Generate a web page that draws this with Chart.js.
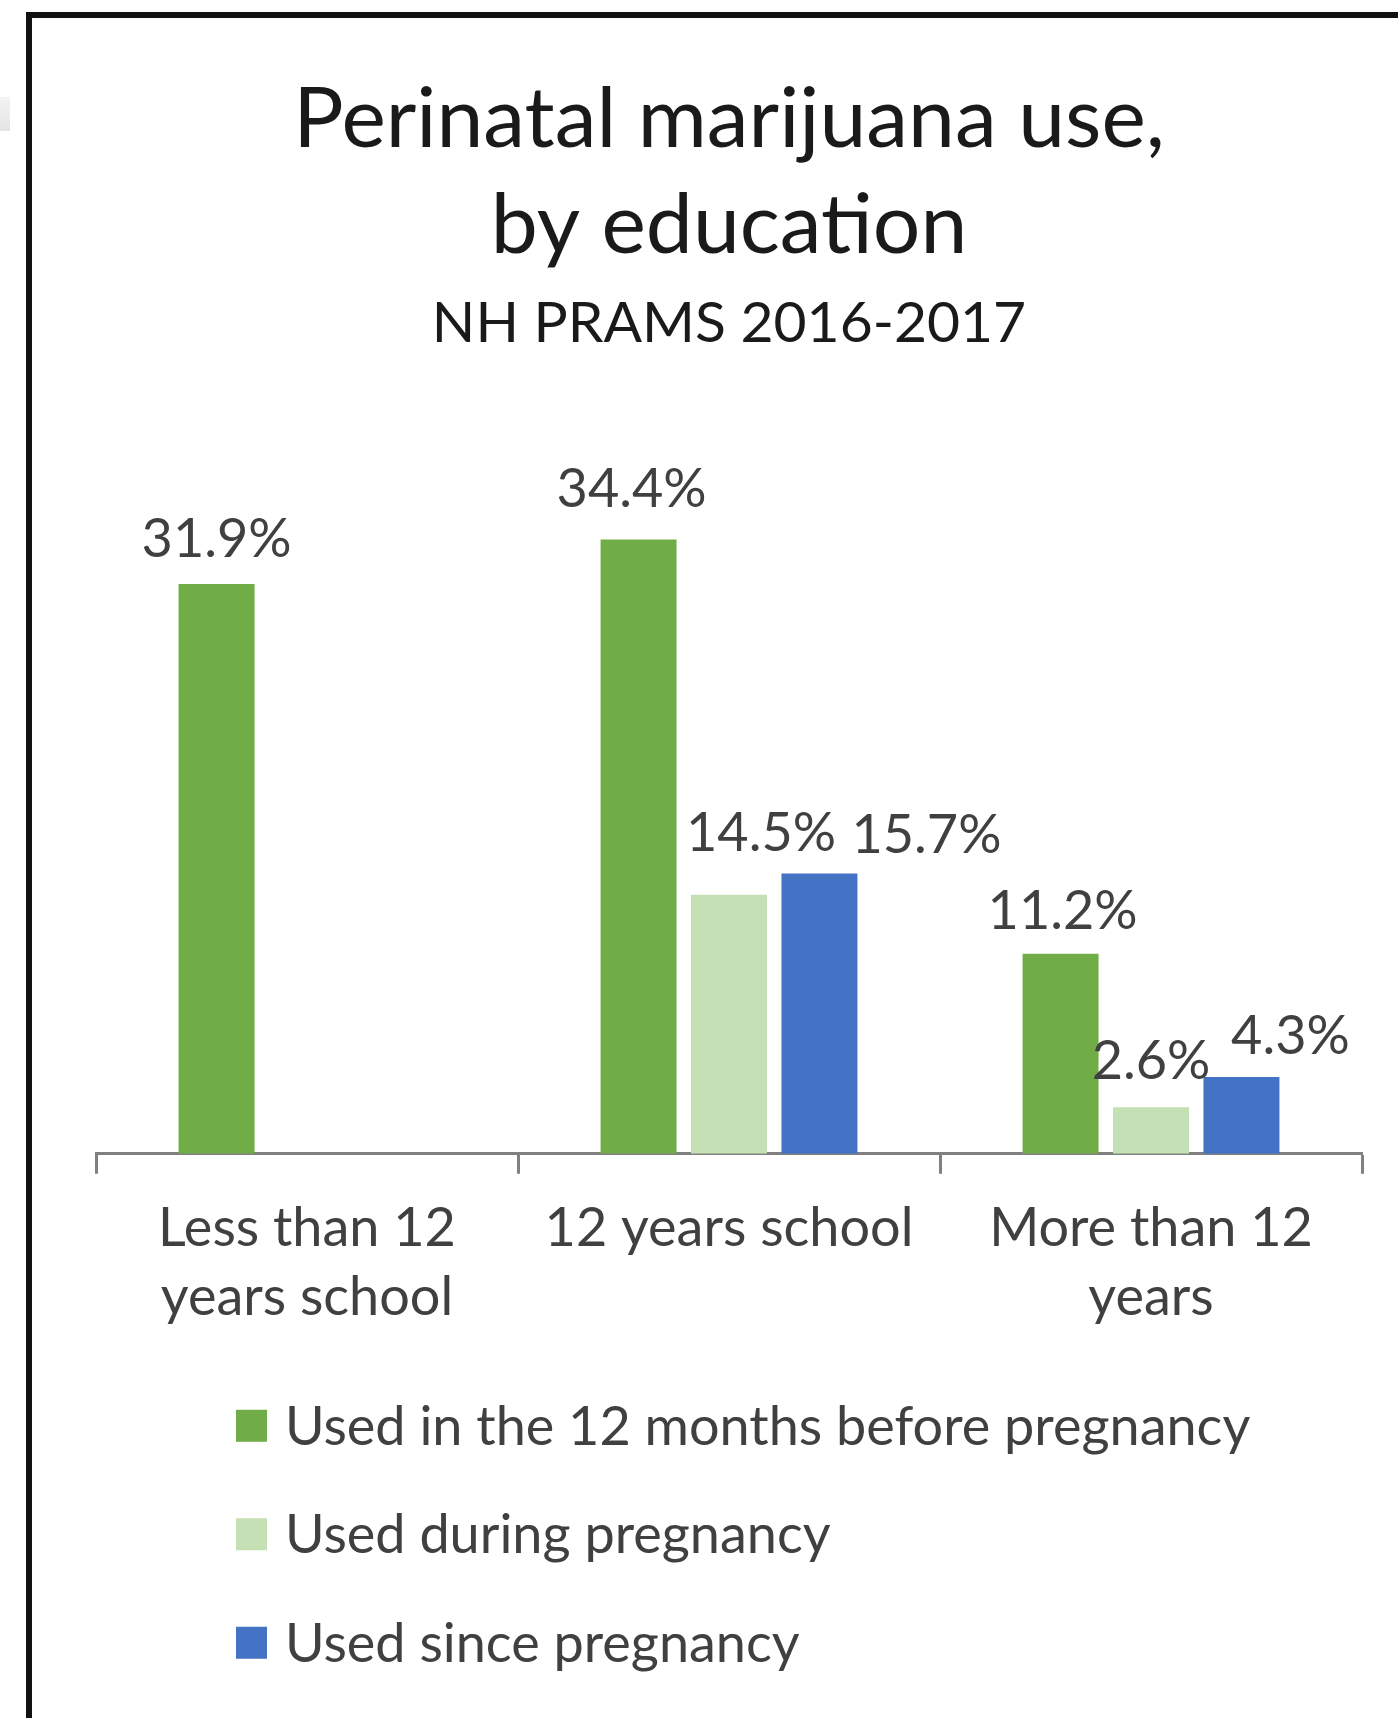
<!DOCTYPE html>
<html>
<head>
<meta charset="utf-8">
<title>Perinatal marijuana use, by education</title>
<script src="https://cdn.jsdelivr.net/npm/chart.js@4.4.1/dist/chart.umd.min.js"></script>
<style>
  html, body { margin: 0; padding: 0; background: #fff; overflow: hidden; }
  #wrap { position: relative; width: 1398px; height: 1718px; }
  #frame { position: absolute; left: 26px; top: 12px; width: 1400px; height: 1720px;
           border-left: 6px solid #111; border-top: 6px solid #111; }
  #tab { position: absolute; left: 0; top: 97px; width: 10px; height: 34px;
         background: linear-gradient(#f4f4f4, #e4e4e4); }
  canvas { position: absolute; left: 0; top: 0; }
</style>
</head>
<body>
<div id="wrap">
  <div id="tab"></div>
  <div id="frame"></div>
  <canvas id="eduChart" width="1398" height="1718"></canvas>
</div>
<script>
// categories and values (percent)
const categories = [['Less than 12', 'years school'], '12 years school', ['More than 12', 'years']];
const seriesNames = ['Used in the 12 months before pregnancy', 'Used during pregnancy', 'Used since pregnancy'];
const before12Months = [31.9, 34.4, 11.2];
const duringPregnancy = [null, 14.5, 2.6];
const sincePregnancy = [null, 15.7, 4.3];

const seriesColors = ['#70AD47', '#C5E0B4', '#4472C4'];

// nudges for the value labels [dx, dy above bar top], some were moved by hand in the original
const labelNudge = [
    [[0, 44], [-7, 50], [2, 42]],
    [null, [32, 61], [0, 46]],
    [null, [107, 38], [49, 40]]
];

const FONT = 'Lato';

// draws "xx.x%" above each bar
const barLabels = {
    id: 'barLabels',
    afterDatasetsDraw(chart) {
        const ctx = chart.ctx;
        ctx.save();
        ctx.font = '54px ' + FONT;
        ctx.fillStyle = '#404040';
        ctx.textAlign = 'center';
        ctx.textBaseline = 'middle';
        chart.data.datasets.forEach((ds, i) => {
            chart.getDatasetMeta(i).data.forEach((bar, j) => {
                const v = ds.data[j];
                if (v == null) return;
                const n = labelNudge[i][j] || [0, 45];
                ctx.fillText(v.toFixed(1) + '%', bar.x + n[0], bar.y - n[1]);
            });
        });
        ctx.restore();
    }
};

// legend stacked in one column, left aligned (built-in legend can't do this)
const columnLegend = {
    id: 'columnLegend',
    afterDraw(chart) {
        const ctx = chart.ctx;
        const firstBaseline = chart.chartArea.bottom + 291;
        ctx.save();
        ctx.font = '54px ' + FONT;
        ctx.textBaseline = 'alphabetic';
        ctx.textAlign = 'left';
        chart.data.datasets.forEach((ds, i) => {
            const y = firstBaseline + i * 108.5;
            ctx.fillStyle = ds.backgroundColor;
            ctx.fillRect(236, y - 35, 31, 32);
            ctx.fillStyle = '#404040';
            ctx.fillText(ds.label, 285, y);
        });
        ctx.restore();
    }
};

const ctx = document.getElementById('eduChart').getContext('2d');
const eduChart = new Chart(ctx, {
    type: 'bar',
    data: {
        labels: categories,
        datasets: [
            { label: seriesNames[0], data: before12Months, backgroundColor: seriesColors[0] },
            { label: seriesNames[1], data: duringPregnancy, backgroundColor: seriesColors[1] },
            { label: seriesNames[2], data: sincePregnancy, backgroundColor: seriesColors[2] }
        ]
    },
    options: {
        responsive: false,
        animation: false,
        categoryPercentage: 0.643,
        barPercentage: 0.84,
        layout: { padding: { left: 96, right: 36, top: 0, bottom: 366 } },
        plugins: {
            legend: { display: false },
            tooltip: { enabled: false },
            title: {
                display: true,
                text: ['Perinatal marijuana use,', 'by education'],
                color: '#1a1a1a',
                font: { family: FONT, size: 84, weight: 'normal', lineHeight: 1.262 },
                padding: { top: 67, bottom: 0 }
            },
            subtitle: {
                display: true,
                text: 'NH PRAMS 2016-2017',
                color: '#1a1a1a',
                font: { family: FONT, size: 57, weight: 'normal', lineHeight: 1.2 },
                padding: { top: 10, bottom: 82 }
            }
        },
        scales: {
            x: {
                grid: { drawOnChartArea: false, offset: true, tickLength: 20, tickColor: '#808080', tickWidth: 3 },
                border: { color: '#808080', width: 3 },
                ticks: {
                    color: '#404040',
                    font: { family: FONT, size: 54, lineHeight: 1.28 },
                    padding: 20,
                    maxRotation: 0,
                    autoSkip: false
                }
            },
            y: { display: false, min: 0, max: 40 }
        }
    },
    plugins: [barLabels, columnLegend]
});
</script>
</body>
</html>
